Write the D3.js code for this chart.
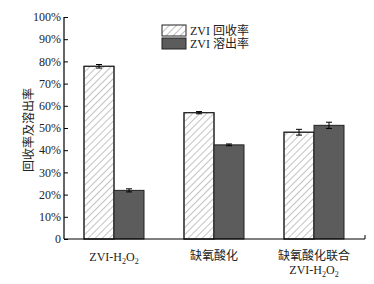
<!DOCTYPE html>
<html>
<head>
<meta charset="utf-8">
<script src="https://cdn.jsdelivr.net/npm/d3@7"></script>
<style>
body { margin: 0; background: #fff; }
text { font-family: "Liberation Serif", "Noto Sans CJK SC", serif; }
</style>
</head>
<body>
<svg id="chart"></svg>
<script>
// data ///////////////////////////////////////////////////////////////
var categories = ["ZVI-H2O2", "缺氧酸化", "缺氧酸化联合ZVI-H2O2"];
var recovery = [77.8, 56.9, 48.1];
var recoveryErr = [0.8, 0.5, 1.3];
var leaching = [21.9, 42.4, 51.2];
var leachingErr = [0.7, 0.4, 1.4];
var yTicks = [0, 10, 20, 30, 40, 50, 60, 70, 80, 90, 100];
var seriesNames = ["ZVI 回收率", "ZVI 溶出率"];

var WIDTH = 374, HEIGHT = 284;
var LEFT = 64, RIGHT = 364, TOP = 17, BOTTOM = 239;

var svg = d3.select("#chart").attr("width", WIDTH).attr("height", HEIGHT);

// hatch pattern
var defs = svg.append("defs");
defs.append("pattern")
    .attr("id", "hatch")
    .attr("patternUnits", "userSpaceOnUse")
    .attr("width", 5).attr("height", 5)
    .attr("patternTransform", "rotate(45)")
  .append("line")
    .attr("x1", 0).attr("y1", 0).attr("x2", 0).attr("y2", 5)
    .attr("stroke", "#777").attr("stroke-width", 0.9);

var x = d3.scaleBand().domain(categories).range([LEFT, RIGHT]).padding(0);
var sub = d3.scaleBand().domain([0, 1]).range([x.bandwidth() / 2 - 30, x.bandwidth() / 2 + 30]).padding(0);
var y = d3.scaleLinear().domain([0, 100]).range([BOTTOM, TOP]);

var fills = ["url(#hatch)", "#5c5c5c"];
var vals = [recovery, leaching];
var errs = [recoveryErr, leachingErr];

// bars
var groups = svg.append("g").selectAll("g")
    .data(categories).enter().append("g")
    .attr("transform", function (d) { return "translate(" + x(d) + ",0)"; });

[0, 1].forEach(function (s) {
    groups.append("rect")
        .attr("x", sub(s))
        .attr("y", function (d, i) { return y(vals[s][i]); })
        .attr("width", sub.bandwidth())
        .attr("height", function (d, i) { return y(0) - y(vals[s][i]); })
        .attr("fill", s === 0 ? "#fff" : fills[s])
        .attr("stroke", "#222").attr("stroke-width", 1);
    if (s === 0) {
        groups.append("rect")
            .attr("x", sub(s))
            .attr("y", function (d, i) { return y(vals[s][i]); })
            .attr("width", sub.bandwidth())
            .attr("height", function (d, i) { return y(0) - y(vals[s][i]); })
            .attr("fill", fills[s])
            .attr("stroke", "#222").attr("stroke-width", 1);
    }
    // error bars
    var cx = sub(s) + sub.bandwidth() / 2;
    var eb = groups.append("g").attr("stroke", "#000").attr("stroke-width", 1);
    eb.append("line")
        .attr("x1", cx).attr("x2", cx)
        .attr("y1", function (d, i) { return y(vals[s][i] + errs[s][i]); })
        .attr("y2", function (d, i) { return y(vals[s][i] - errs[s][i]); });
    [1, -1].forEach(function (sign) {
        eb.append("line")
            .attr("x1", cx - 3).attr("x2", cx + 3)
            .attr("y1", function (d, i) { return y(vals[s][i] + sign * errs[s][i]); })
            .attr("y2", function (d, i) { return y(vals[s][i] + sign * errs[s][i]); });
    });
});

// y axis with inward ticks
var yAxis = svg.append("g").attr("transform", "translate(" + LEFT + ",0)");
yAxis.call(d3.axisRight(y).tickValues(d3.range(5, 100, 10)).tickSize(2).tickFormat(""));
yAxis.call(d3.axisRight(y).tickValues(yTicks).tickSize(4).tickFormat(""));
yAxis.select(".domain").remove();
yAxis.selectAll("line").attr("stroke", "#000");
yAxis.append("line").attr("y1", TOP).attr("y2", BOTTOM).attr("stroke", "#000").attr("stroke-width", 1.2);

svg.append("g").selectAll("text")
    .data(yTicks).enter().append("text")
    .attr("x", LEFT - 3)
    .attr("y", function (d) { return y(d); })
    .attr("dy", "0.35em")
    .attr("text-anchor", "end")
    .attr("font-size", 12)
    .attr("fill", "#222")
    .text(function (d) { return d === 0 ? "0" : d + "%"; });

// x axis
svg.append("line")
    .attr("x1", LEFT).attr("x2", RIGHT + 1)
    .attr("y1", y(0)).attr("y2", y(0))
    .attr("stroke", "#000").attr("stroke-width", 1.2);
svg.append("line")
    .attr("x1", RIGHT + 1).attr("x2", RIGHT + 1)
    .attr("y1", y(0)).attr("y2", y(0) - 4)
    .attr("stroke", "#000");

// x labels
function h2o2(t) {
    t.append("tspan").text("ZVI-H");
    t.append("tspan").attr("font-size", 8).attr("dy", 3).text("2");
    t.append("tspan").attr("dy", -3).text("O");
    t.append("tspan").attr("font-size", 8).attr("dy", 3).text("2");
}
var cxOf = function (d) { return x(d) + x.bandwidth() / 2; };
var xl = svg.append("g").attr("font-size", 12).attr("fill", "#222").attr("text-anchor", "middle");
h2o2(xl.append("text").attr("x", cxOf(categories[0])).attr("y", 261).attr("fill", "#222"));
xl.append("text").attr("x", cxOf(categories[1])).attr("y", 260).attr("fill", "#222").text(categories[1]);
xl.append("text").attr("x", cxOf(categories[2])).attr("y", 260).attr("fill", "#222").text("缺氧酸化联合");
h2o2(xl.append("text").attr("x", cxOf(categories[2])).attr("y", 274).attr("fill", "#222"));

// y title
svg.append("text")
    .attr("transform", "translate(33," + 130 + ") rotate(-90)")
    .attr("text-anchor", "middle")
    .attr("font-size", 12)
    .attr("fill", "#222")
    .text("回收率及溶出率");

// legend
var legend = svg.append("g").attr("transform", "translate(162,25)");
seriesNames.forEach(function (name, i) {
    if (i === 0) {
        legend.append("rect").attr("x", 0).attr("y", i * 13).attr("width", 24).attr("height", 11)
            .attr("fill", "#fff");
    }
    legend.append("rect").attr("x", 0).attr("y", i * 13).attr("width", 24).attr("height", 11)
        .attr("fill", fills[i]).attr("stroke", "#222");
    legend.append("text").attr("x", 28).attr("y", i * 13 + 5.5).attr("dy", "0.38em")
        .attr("font-size", 12).attr("fill", "#222").text(name);
});
</script>
</body>
</html>
